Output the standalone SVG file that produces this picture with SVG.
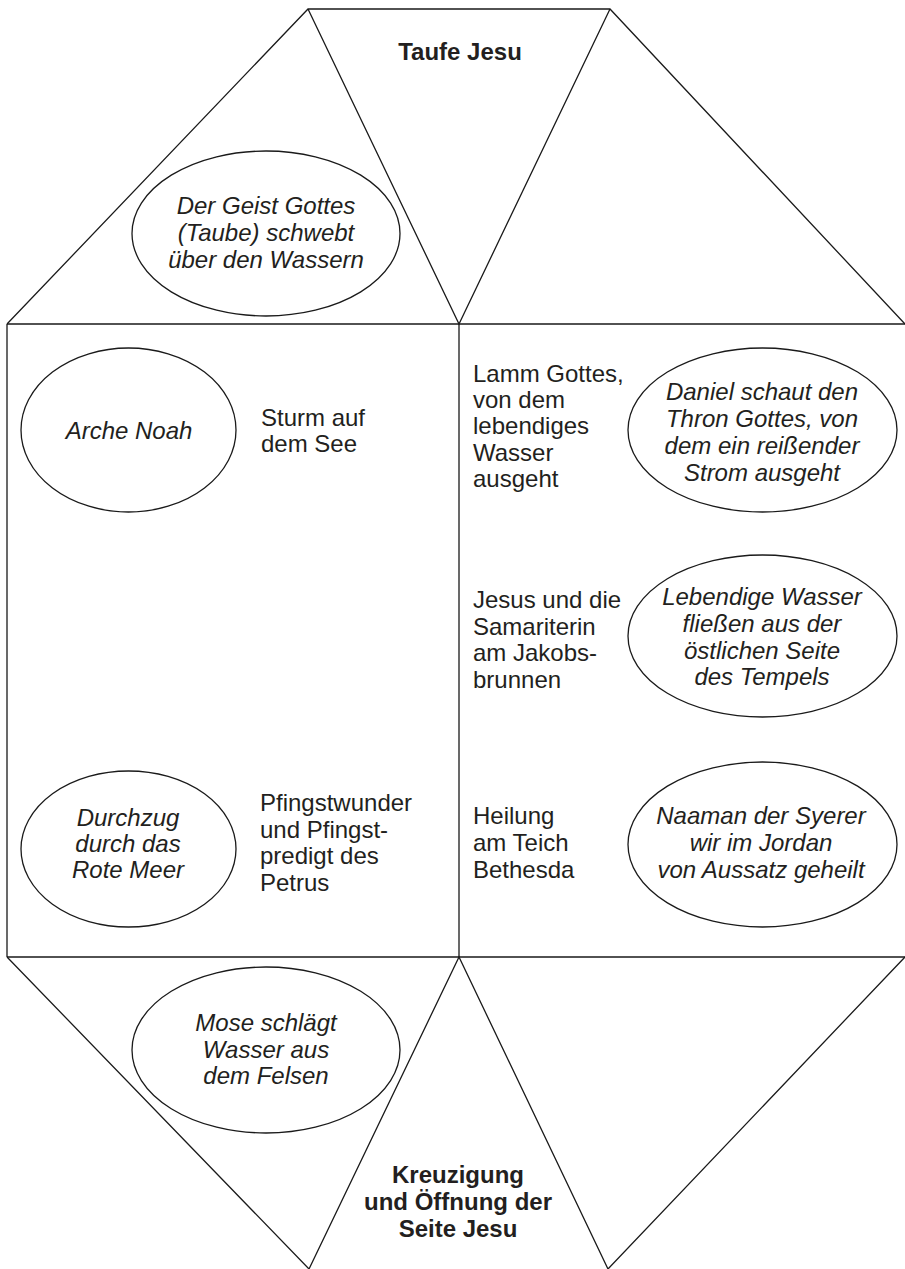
<svg xmlns="http://www.w3.org/2000/svg" width="905" height="1269" viewBox="0 0 905 1269">
<style>
.ln{fill:none;stroke:#1a1a1a;stroke-width:1.3;stroke-linejoin:miter}
.el{fill:#fff;stroke:#1a1a1a;stroke-width:1.3}
text{font-family:"Liberation Sans",Arial,sans-serif;font-size:24px;fill:#231f20}
.it{font-style:italic;text-anchor:middle}
.bd{font-weight:bold;text-anchor:middle}
</style>
<rect x="0" y="0" width="905" height="1269" fill="#fff"/>
<g id="outline">
<path class="ln" d="M7,324 L308,9 L610,9 L905,324 M308,9 L459,324 L610,9"/>
<path class="ln" d="M7,324 L905,324 M7,324 L7,957 M459,324 L459,957 M7,957 L905,957"/>
<path class="ln" d="M7,957 L309,1269 L459,957 L608,1269 L905,957"/>
</g>
<g id="taufe">
<text class="bd" x="460" y="60">Taufe Jesu</text>
</g>
<g id="geist">
<ellipse class="el" cx="266" cy="233.5" rx="134" ry="82.5"/>
<text class="it" x="266" y="214">Der Geist Gottes</text>
<text class="it" x="266" y="241">(Taube) schwebt</text>
<text class="it" x="266" y="268">über den Wassern</text>
</g>
<g id="arche">
<ellipse class="el" cx="128.5" cy="430" rx="107.5" ry="82"/>
<text class="it" x="129" y="439">Arche Noah</text>
</g>
<g id="sturm">
<text x="261" y="426">Sturm auf</text>
<text x="261" y="452">dem See</text>
</g>
<g id="lamm">
<text x="473" y="381.5">Lamm Gottes,</text>
<text x="473" y="408">von dem</text>
<text x="473" y="434">lebendiges</text>
<text x="473" y="460.5">Wasser</text>
<text x="473" y="486.5">ausgeht</text>
</g>
<g id="daniel">
<ellipse class="el" cx="762.5" cy="430" rx="134.5" ry="82"/>
<text class="it" x="762" y="400">Daniel schaut den</text>
<text class="it" x="762" y="427">Thron Gottes, von</text>
<text class="it" x="762" y="454">dem ein reißender</text>
<text class="it" x="762" y="481">Strom ausgeht</text>
</g>
<g id="samariterin">
<text x="473" y="608">Jesus und die</text>
<text x="473" y="634.5">Samariterin</text>
<text x="473" y="661">am Jakobs-</text>
<text x="473" y="687.5">brunnen</text>
</g>
<g id="lebendige">
<ellipse class="el" cx="762.5" cy="636" rx="134.5" ry="81"/>
<text class="it" x="762" y="605">Lebendige Wasser</text>
<text class="it" x="762" y="632">fließen aus der</text>
<text class="it" x="762" y="658.5">östlichen Seite</text>
<text class="it" x="762" y="685">des Tempels</text>
</g>
<g id="durchzug">
<ellipse class="el" cx="128.5" cy="849" rx="107.5" ry="78"/>
<text class="it" x="128" y="826">Durchzug</text>
<text class="it" x="128" y="852">durch das</text>
<text class="it" x="128" y="878">Rote Meer</text>
</g>
<g id="pfingsten">
<text x="260" y="811">Pfingstwunder</text>
<text x="260" y="837.5">und Pfingst-</text>
<text x="260" y="864">predigt des</text>
<text x="260" y="890.5">Petrus</text>
</g>
<g id="heilung">
<text x="473" y="824">Heilung</text>
<text x="473" y="851">am Teich</text>
<text x="473" y="878">Bethesda</text>
</g>
<g id="naaman">
<ellipse class="el" cx="762.5" cy="844.5" rx="134.5" ry="82.5"/>
<text class="it" x="761" y="824">Naaman der Syerer</text>
<text class="it" x="761" y="851">wir im Jordan</text>
<text class="it" x="761" y="878">von Aussatz geheilt</text>
</g>
<g id="mose">
<ellipse class="el" cx="266" cy="1050" rx="134" ry="83"/>
<text class="it" x="266" y="1031">Mose schlägt</text>
<text class="it" x="266" y="1057.5">Wasser aus</text>
<text class="it" x="266" y="1084">dem Felsen</text>
</g>
<g id="kreuzigung">
<text class="bd" x="458" y="1183">Kreuzigung</text>
<text class="bd" x="458" y="1210">und Öffnung der</text>
<text class="bd" x="458" y="1237">Seite Jesu</text>
</g>
</svg>
